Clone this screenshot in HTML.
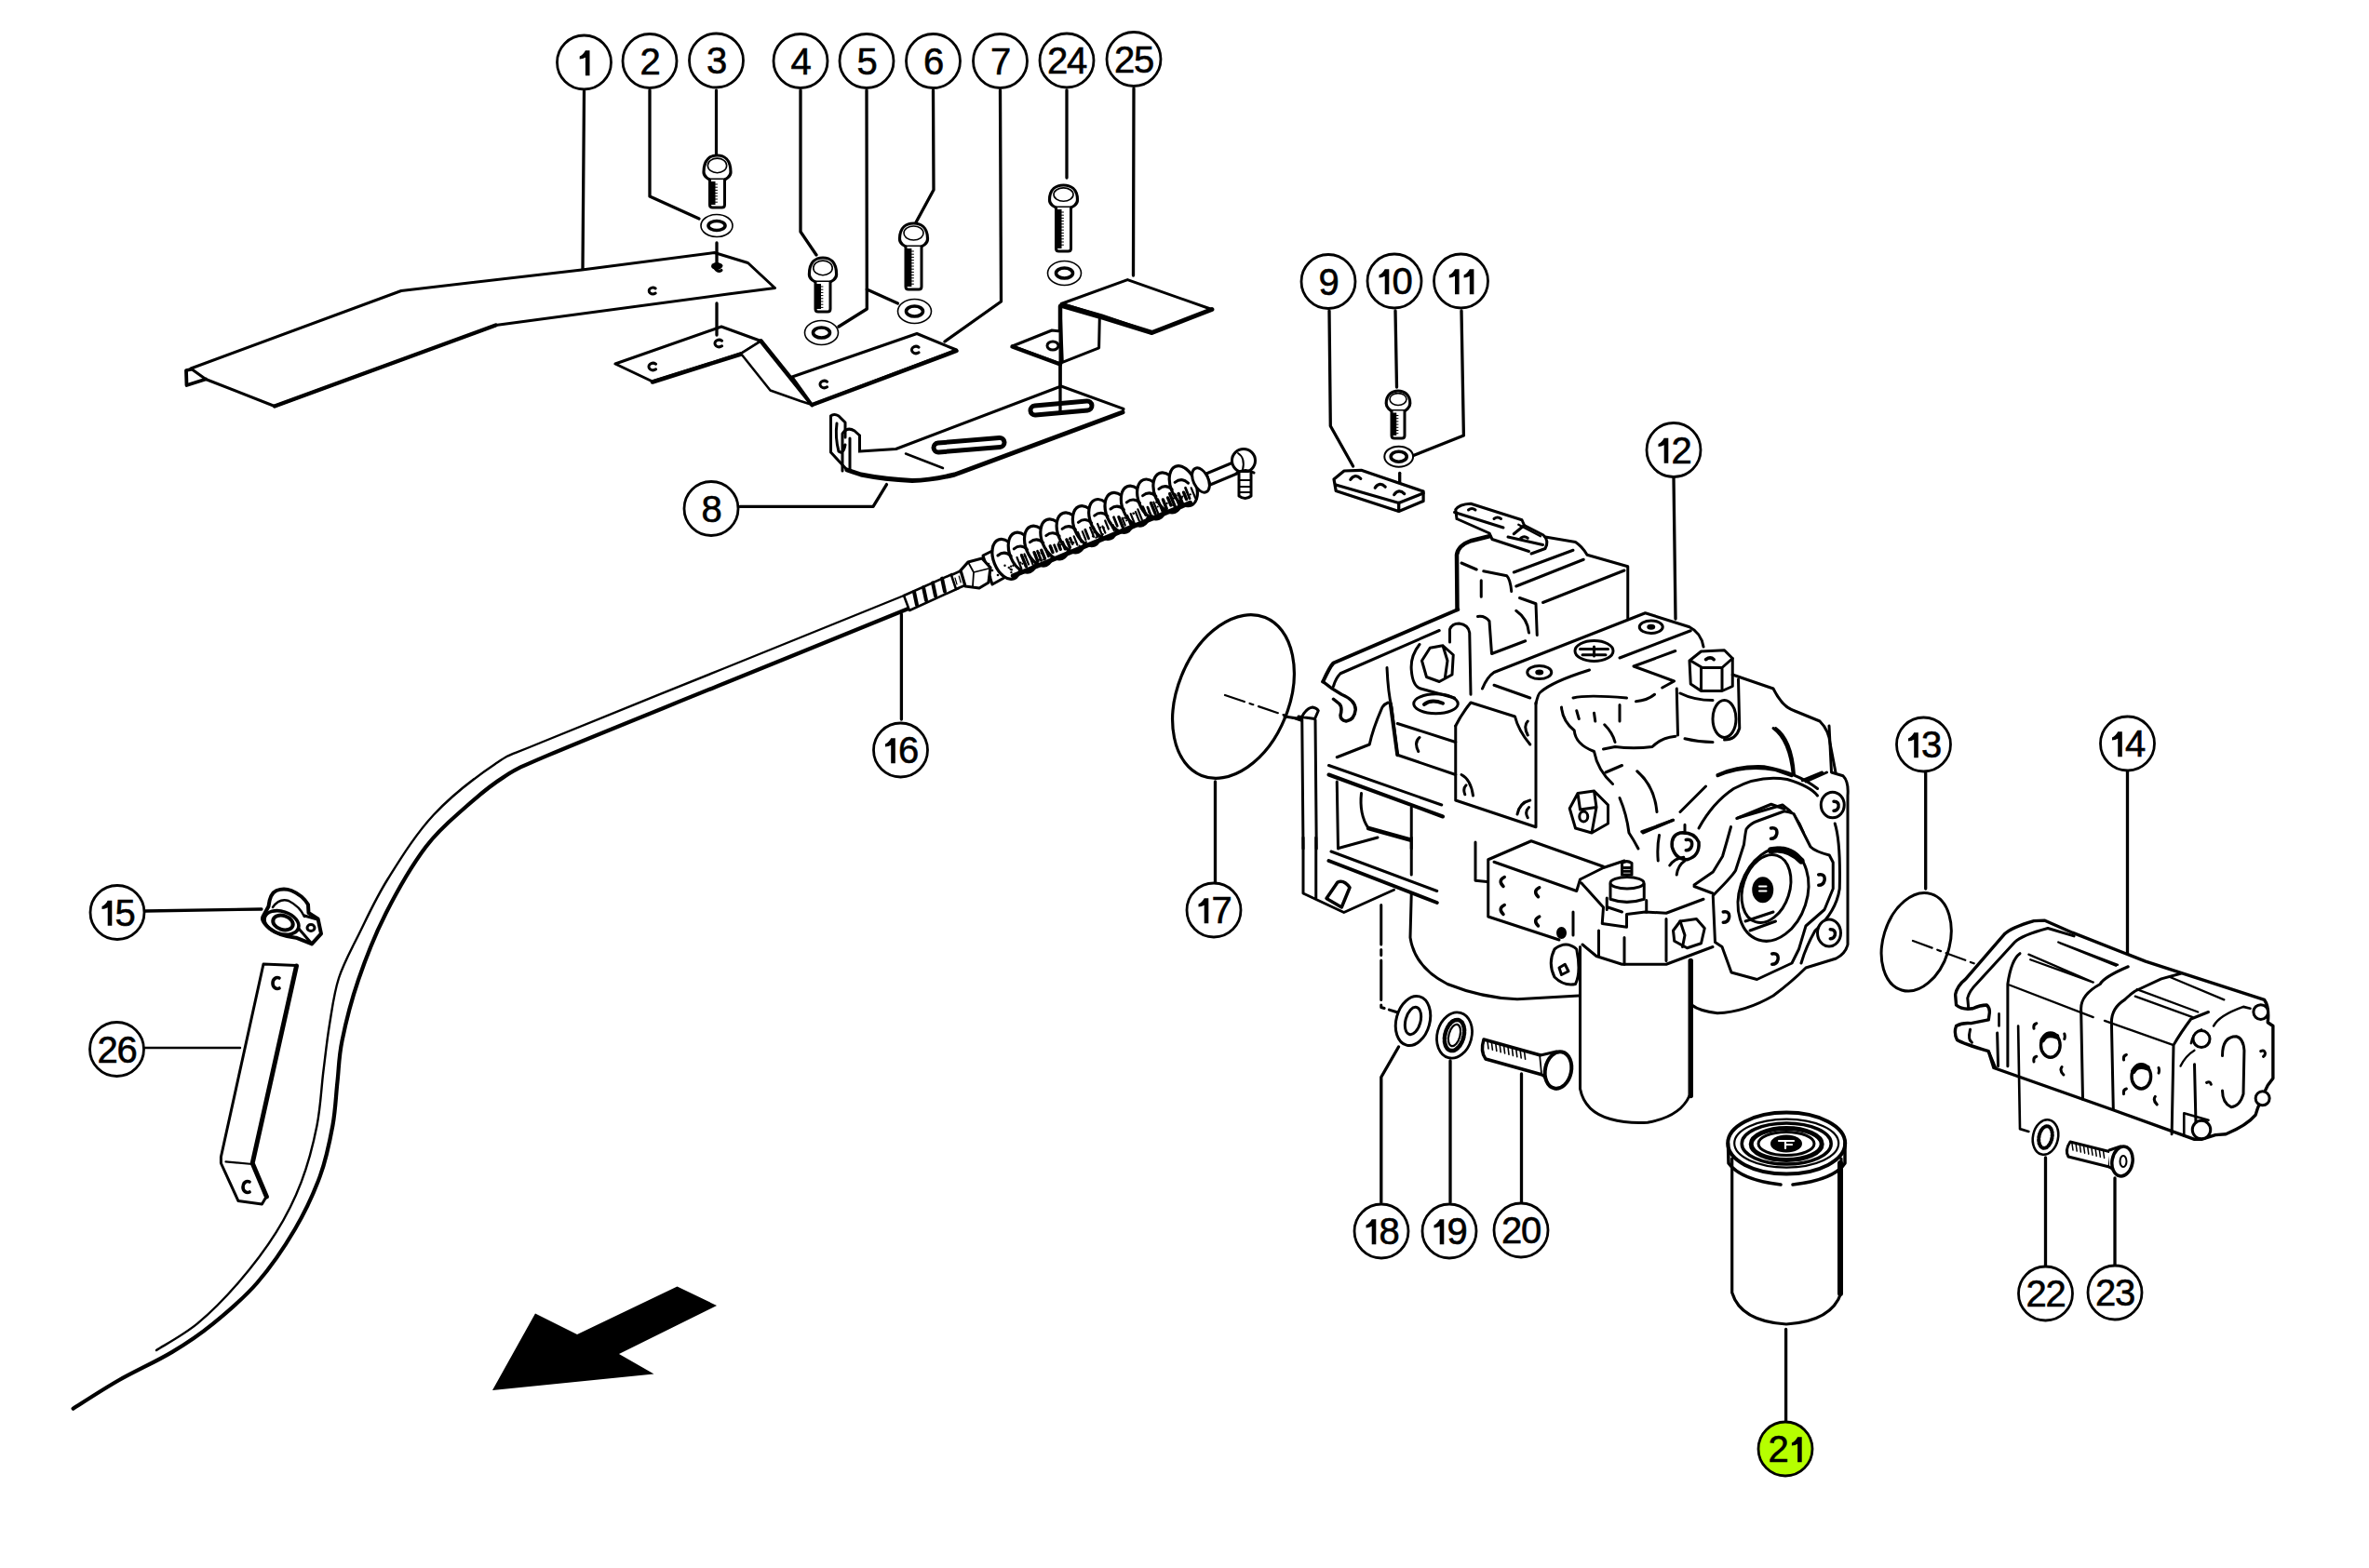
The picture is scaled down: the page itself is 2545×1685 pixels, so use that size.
<!DOCTYPE html>
<html><head><meta charset="utf-8"><style>
html,body{margin:0;padding:0;background:#fff;overflow:hidden;}
svg{display:block;}
.n{font-family:"Liberation Sans",sans-serif;font-size:40px;text-anchor:middle;fill:#000;stroke:#000;stroke-width:0.6px;}
</style></head><body>
<svg width="2545" height="1685" viewBox="0 0 2545 1685">
<rect width="2545" height="1685" fill="#fff"/>
<g fill="none" stroke="#000" stroke-width="3" stroke-linejoin="round" stroke-linecap="round">
<polyline points="627.5,98 626,289" stroke-width="3.3"/>
<polyline points="698,97 698,211 751,235" stroke-width="3.3"/>
<polyline points="769.5,97 769.5,166" stroke-width="3.2"/>
<polyline points="860,97 860,249 877,274" stroke-width="3.3"/>
<polyline points="931,97 931.3,332 901,351" stroke-width="3.3"/>
<polyline points="931.3,311 964.5,326" stroke-width="3.3"/>
<polyline points="1002.5,97 1003,204 984,239" stroke-width="3.3"/>
<polyline points="1074.5,97 1075.5,324 1015,367" stroke-width="3.3"/>
<polyline points="1146,97 1146,191" stroke-width="3.3"/>
<polyline points="1218,95 1217.5,296" stroke-width="3.3"/>
<polygon points="205,396 431,312.5 625,290 767.5,271.5 803.5,282.5 832.5,309.5 782,316 532.5,349.5 295,436.5 221,407.5" stroke-width="3" fill="#fff"/>
<polyline points="532.5,349.5 295,436.5" stroke-width="4.2"/>
<polyline points="205,397 200,398 200.5,414 221,407.5" stroke-width="3.8"/>
<path d="M704.2,309.98 A4.2,3.3600000000000003 0 1 0 704.2,315.02" stroke-width="3.0"/>
<polyline points="770,261 770,288" stroke-width="3.3"/>
<ellipse cx="770" cy="286" rx="6" ry="4" fill="#000" stroke="none"/>
<path d="M775,285.6 A4,3.2 0 1 0 775,290.4" stroke-width="3.0"/>
<polygon points="661,391 775,351 817.5,366.5 796,380 701,410" stroke-width="3" fill="#fff"/>
<polyline points="701,410.5 796,380.5" stroke-width="4.5"/>
<polygon points="817.5,366.5 872.5,435 860,431 827.5,419.5 796,380" stroke-width="2.5" fill="#fff"/>
<polyline points="817.5,366.5 872.5,435" stroke-width="4.5"/>
<polygon points="851,405 985,358.5 1027.5,376 872.5,435" stroke-width="3" fill="#fff"/>
<polyline points="872.5,435 1027.5,377" stroke-width="4.5"/>
<polyline points="770,326 770,360" stroke-width="3.3"/>
<path d="M704.6,391.24 A4.6,3.6799999999999997 0 1 0 704.6,396.76" stroke-width="3.0"/>
<path d="M775.6,366.24 A4.6,3.6799999999999997 0 1 0 775.6,371.76" stroke-width="3.0"/>
<path d="M888.6,410.24 A4.6,3.6799999999999997 0 1 0 888.6,415.76" stroke-width="3.0"/>
<path d="M987.1,373.24 A4.6,3.6799999999999997 0 1 0 987.1,378.76" stroke-width="3.0"/>
<path d="M756.0,185 C756.0,171 763.25,167 770.5,167 C777.75,167 785.0,171 785.0,185 C785.0,190 779.2,193 777.75,193 L763.25,193 C761.8,193 756.0,190 756.0,185 Z" fill="#fff" stroke-width="3.2"/>
<ellipse cx="770.5" cy="177.92" rx="10.149999999999999" ry="7.8" stroke-width="1.6"/>
<path d="M762.5,193 L762.5,220 Q762.5,223 765.5,223 L775.5,223 Q778.5,223 778.5,220 L778.5,193" fill="#fff" stroke-width="3"/>
<rect x="762.5" y="195" width="6.0" height="25" fill="#000" stroke="none"/>
<line x1="768.1" y1="198.0" x2="770.5" y2="198.0" stroke-width="1"/>
<line x1="768.1" y1="201.2" x2="770.5" y2="201.2" stroke-width="1"/>
<line x1="768.1" y1="204.4" x2="770.5" y2="204.4" stroke-width="1"/>
<line x1="768.1" y1="207.6" x2="770.5" y2="207.6" stroke-width="1"/>
<line x1="768.1" y1="210.8" x2="770.5" y2="210.8" stroke-width="1"/>
<line x1="768.1" y1="214.0" x2="770.5" y2="214.0" stroke-width="1"/>
<line x1="768.1" y1="217.2" x2="770.5" y2="217.2" stroke-width="1"/>
<path d="M869.4,295 C869.4,281 876.7,277 884,277 C891.3,277 898.6,281 898.6,295 C898.6,300 892.76,303 891.3,303 L876.7,303 C875.24,303 869.4,300 869.4,295 Z" fill="#fff" stroke-width="3.2"/>
<ellipse cx="884" cy="287.92" rx="10.219999999999999" ry="7.8" stroke-width="1.6"/>
<path d="M876,303 L876,332 Q876,335 879,335 L889,335 Q892,335 892,332 L892,303" fill="#fff" stroke-width="3"/>
<rect x="876" y="305" width="6.0" height="27" fill="#000" stroke="none"/>
<line x1="881.6" y1="308.0" x2="884" y2="308.0" stroke-width="1"/>
<line x1="881.6" y1="311.2" x2="884" y2="311.2" stroke-width="1"/>
<line x1="881.6" y1="314.4" x2="884" y2="314.4" stroke-width="1"/>
<line x1="881.6" y1="317.6" x2="884" y2="317.6" stroke-width="1"/>
<line x1="881.6" y1="320.8" x2="884" y2="320.8" stroke-width="1"/>
<line x1="881.6" y1="324.0" x2="884" y2="324.0" stroke-width="1"/>
<line x1="881.6" y1="327.2" x2="884" y2="327.2" stroke-width="1"/>
<line x1="881.6" y1="330.4" x2="884" y2="330.4" stroke-width="1"/>
<path d="M966.5,257 C966.5,244 974.0,240 981.5,240 C989.0,240 996.5,244 996.5,257 C996.5,262 990.5,265 989.0,265 L974.0,265 C972.5,265 966.5,262 966.5,257 Z" fill="#fff" stroke-width="3.2"/>
<ellipse cx="981.5" cy="250.5" rx="10.5" ry="7.5" stroke-width="1.6"/>
<path d="M973.0,265 L973.0,308 Q973.0,311 976.0,311 L987.0,311 Q990.0,311 990.0,308 L990.0,265" fill="#fff" stroke-width="3"/>
<rect x="973.0" y="267" width="6.375" height="41" fill="#000" stroke="none"/>
<line x1="978.95" y1="270.0" x2="981.5" y2="270.0" stroke-width="1"/>
<line x1="978.95" y1="273.2" x2="981.5" y2="273.2" stroke-width="1"/>
<line x1="978.95" y1="276.4" x2="981.5" y2="276.4" stroke-width="1"/>
<line x1="978.95" y1="279.6" x2="981.5" y2="279.6" stroke-width="1"/>
<line x1="978.95" y1="282.8" x2="981.5" y2="282.8" stroke-width="1"/>
<line x1="978.95" y1="286.0" x2="981.5" y2="286.0" stroke-width="1"/>
<line x1="978.95" y1="289.2" x2="981.5" y2="289.2" stroke-width="1"/>
<line x1="978.95" y1="292.4" x2="981.5" y2="292.4" stroke-width="1"/>
<line x1="978.95" y1="295.6" x2="981.5" y2="295.6" stroke-width="1"/>
<line x1="978.95" y1="298.8" x2="981.5" y2="298.8" stroke-width="1"/>
<line x1="978.95" y1="302.0" x2="981.5" y2="302.0" stroke-width="1"/>
<line x1="978.95" y1="305.2" x2="981.5" y2="305.2" stroke-width="1"/>
<path d="M1127.5,215 C1127.5,203 1135.0,199 1142.5,199 C1150.0,199 1157.5,203 1157.5,215 C1157.5,220 1151.5,223 1150.0,223 L1135.0,223 C1133.5,223 1127.5,220 1127.5,215 Z" fill="#fff" stroke-width="3.2"/>
<ellipse cx="1142.5" cy="209.08" rx="10.5" ry="7.199999999999999" stroke-width="1.6"/>
<path d="M1134.5,223 L1134.5,267 Q1134.5,270 1137.5,270 L1147.5,270 Q1150.5,270 1150.5,267 L1150.5,223" fill="#fff" stroke-width="3"/>
<rect x="1134.5" y="225" width="6.0" height="42" fill="#000" stroke="none"/>
<line x1="1140.1" y1="228.0" x2="1142.5" y2="228.0" stroke-width="1"/>
<line x1="1140.1" y1="231.2" x2="1142.5" y2="231.2" stroke-width="1"/>
<line x1="1140.1" y1="234.4" x2="1142.5" y2="234.4" stroke-width="1"/>
<line x1="1140.1" y1="237.6" x2="1142.5" y2="237.6" stroke-width="1"/>
<line x1="1140.1" y1="240.8" x2="1142.5" y2="240.8" stroke-width="1"/>
<line x1="1140.1" y1="244.0" x2="1142.5" y2="244.0" stroke-width="1"/>
<line x1="1140.1" y1="247.2" x2="1142.5" y2="247.2" stroke-width="1"/>
<line x1="1140.1" y1="250.4" x2="1142.5" y2="250.4" stroke-width="1"/>
<line x1="1140.1" y1="253.6" x2="1142.5" y2="253.6" stroke-width="1"/>
<line x1="1140.1" y1="256.8" x2="1142.5" y2="256.8" stroke-width="1"/>
<line x1="1140.1" y1="260.0" x2="1142.5" y2="260.0" stroke-width="1"/>
<line x1="1140.1" y1="263.2" x2="1142.5" y2="263.2" stroke-width="1"/>
<ellipse cx="770" cy="242.5" rx="17" ry="12" fill="#fff" stroke-width="1.6"/><ellipse cx="770" cy="242.5" rx="9" ry="5" stroke-width="3.6"/>
<ellipse cx="882.5" cy="357.5" rx="18" ry="13" fill="#fff" stroke-width="1.6"/><ellipse cx="882.5" cy="357.5" rx="9" ry="5.5" stroke-width="3.6"/>
<ellipse cx="982.5" cy="334.5" rx="18" ry="13" fill="#fff" stroke-width="1.6"/><ellipse cx="982.5" cy="334.5" rx="9" ry="5.5" stroke-width="3.6"/>
<ellipse cx="1143.5" cy="293.5" rx="18" ry="13" fill="#fff" stroke-width="1.6"/><ellipse cx="1143.5" cy="293.5" rx="9" ry="5.5" stroke-width="3.6"/>
<polygon points="1140,326.5 1211.3,300.6 1301.9,332.5 1237.5,357.5 1183.8,339" stroke-width="3" fill="#fff"/>
<polyline points="1142.5,328 1237.5,357.5 1301.9,332.5" stroke-width="5"/>
<polygon points="1139,329 1181.3,341.3 1180.6,373.8 1141.3,389.4" stroke-width="3" fill="#fff"/>
<polyline points="1139,329 1139,391" stroke-width="4.5"/>
<polygon points="1087.5,372 1130,355 1139,356 1139,391" stroke-width="3" fill="#fff"/>
<polyline points="1087.5,372.5 1139,391.5" stroke-width="4.5"/>
<ellipse cx="1131" cy="371.5" rx="6" ry="4.5" stroke-width="3"/>
<polyline points="1139,392 1139,442" stroke-width="3.3"/>
<path d="M892.5,486 L892.5,447 Q896,444 901,447 L908,454 L908,470 M923.5,468 L923.5,506 L910,505 L892.5,486" stroke-width="3" fill="#fff"/>
<path d="M923.5,485 L962.5,482.5 L1140,415 L1207,439.4 L1206,443 L1025.6,510 Q1000,516 980,516.5 Q950,515 925,510 L910,505" stroke-width="3" fill="#fff"/>
<path d="M1206,443 L1025.6,510 Q1000,516 980,516.5 Q950,515 925,510 L910,505" stroke-width="5"/>
<path d="M899,455 Q897,470 901,485 Q906,489 908,478 M905,506 L905,466 Q910,458 918,463 L923.5,468 M913,471 L913,505" stroke-width="3"/>
<polyline points="973,487.5 1013,503" stroke-width="2.5"/>
<line x1="1008" y1="481" x2="1074" y2="475.5" stroke-width="15"/><line x1="1008" y1="481" x2="1074" y2="475.5" stroke="#fff" stroke-width="5"/>
<line x1="1112" y1="441" x2="1168" y2="436" stroke-width="15"/><line x1="1112" y1="441" x2="1168" y2="436" stroke="#fff" stroke-width="5"/>
<polyline points="1139,392 1139,442" stroke-width="3.3"/>
<polyline points="795,544.4 938,544.4 952.5,520.6" stroke-width="3.3"/>
<path d="M971,640 C938.5,653.2 841.0,692.7 776,719 C711.0,745.3 621.7,781.0 581,798 C540.3,815.0 551.2,808.1 532,821 C512.8,833.9 485.2,855.0 466,875.5 C446.8,896.0 430.3,922.8 417,944 C403.7,965.2 394.8,985.2 386,1003 C377.2,1020.8 369.3,1034.7 364,1051 C358.7,1067.3 356.8,1084.2 354,1101 C351.2,1117.8 349.6,1133.9 347.3,1152 C345.1,1170.1 344.4,1189.8 340.5,1209.5 C336.6,1229.2 330.9,1251.2 323.6,1270.4 C316.3,1289.6 307.9,1306.4 296.6,1324.4 C285.3,1342.4 270.1,1362.2 256,1378.5 C241.9,1394.8 226.7,1410.3 212,1422.4 C197.3,1434.5 175.3,1446.2 168,1451" stroke-width="2.4"/>
<path d="M1023,632 C1014.3,636.0 1011.7,639.0 971,656 C930.3,673.0 843.0,707.9 779,734 C715.0,760.1 626.7,795.5 587,812.4 C547.3,829.3 555.1,826.3 540.7,835.4 C526.3,844.5 514.4,854.6 500.5,867 C486.6,879.4 471.9,890.9 457.5,910 C443.1,929.1 426.5,957.9 414.4,981.7 C402.3,1005.5 392.8,1030.2 385,1053 C377.2,1075.8 371.2,1100.1 367.5,1118.3 C363.8,1136.5 364.2,1147.0 362.5,1162.2 C360.8,1177.4 360.5,1192.6 357.4,1209.5 C354.3,1226.4 350.7,1245.0 343.9,1263.6 C337.1,1282.2 328.1,1301.8 316.8,1321 C305.5,1340.2 290.9,1361.6 276.3,1378.5 C261.7,1395.4 244.2,1410.0 229,1422.4 C213.8,1434.8 201.9,1442.8 185,1452.9 C168.1,1463.1 145.3,1473.2 127.6,1483.3 C109.9,1493.4 86.8,1508.6 78.6,1513.7" stroke-width="4.2"/>
<polyline points="968.4,660 968.4,773" stroke-width="3.3"/>
<polygon points="971,640 1023,617 1030,632 977,656" fill="#fff" stroke-width="2.5"/>
<line x1="982" y1="636.0" x2="985" y2="650.0" stroke-width="4"/>
<line x1="992" y1="631.2" x2="995" y2="645.2" stroke-width="4"/>
<line x1="1002" y1="626.4" x2="1005" y2="640.4" stroke-width="4"/>
<line x1="1012" y1="621.6" x2="1015" y2="635.6" stroke-width="4"/>
<polygon points="1022,618 1044,608 1049,624 1027,633" fill="#fff" stroke-width="2.5"/>
<line x1="1026.0" y1="621" x2="1028.0" y2="628" stroke-width="1.2"/>
<line x1="1030.2" y1="619" x2="1032.2" y2="626" stroke-width="1.2"/>
<line x1="1034.4" y1="617" x2="1036.4" y2="624" stroke-width="1.2"/>
<line x1="1038.6" y1="615" x2="1040.6" y2="622" stroke-width="1.2"/>
<line x1="1042.8" y1="613" x2="1044.8" y2="620" stroke-width="1.2"/>
<polygon points="1056,597 1072,589 1084,618 1066,628" fill="#fff" stroke-width="3"/>
<circle cx="1062" cy="606" r="1.3" fill="#000" stroke="none"/>
<circle cx="1066" cy="613" r="1.3" fill="#000" stroke="none"/>
<circle cx="1070" cy="603" r="1.3" fill="#000" stroke="none"/>
<circle cx="1072" cy="618" r="1.3" fill="#000" stroke="none"/>
<circle cx="1076" cy="610" r="1.3" fill="#000" stroke="none"/>
<circle cx="1064" cy="620" r="1.3" fill="#000" stroke="none"/>
<circle cx="1078" cy="600" r="1.3" fill="#000" stroke="none"/>
<path d="M1032,613 L1040,604 L1055,600 L1064,610 L1062,626 L1052,632 L1037,630 Z" fill="#fff" stroke-width="3.2"/>
<path d="M1040,604 L1046,615 L1045,630 M1046,615 L1062,611" stroke-width="1.8"/>
<ellipse cx="1081.0" cy="600.9" rx="13.5" ry="22.5" transform="rotate(-22.0 1081.0 600.9)" fill="#fff" stroke-width="3.2"/>
<ellipse cx="1098.3" cy="593.7" rx="13.5" ry="22.5" transform="rotate(-22.0 1098.3 593.7)" fill="#fff" stroke-width="3.2"/>
<ellipse cx="1115.6" cy="586.6" rx="13.5" ry="22.5" transform="rotate(-22.0 1115.6 586.6)" fill="#fff" stroke-width="3.2"/>
<ellipse cx="1132.9" cy="579.4" rx="13.5" ry="22.5" transform="rotate(-22.0 1132.9 579.4)" fill="#fff" stroke-width="3.2"/>
<ellipse cx="1150.2" cy="572.3" rx="13.5" ry="22.5" transform="rotate(-22.0 1150.2 572.3)" fill="#fff" stroke-width="3.2"/>
<ellipse cx="1167.5" cy="565.1" rx="13.5" ry="22.5" transform="rotate(-22.0 1167.5 565.1)" fill="#fff" stroke-width="3.2"/>
<ellipse cx="1184.8" cy="558.0" rx="13.5" ry="22.5" transform="rotate(-22.0 1184.8 558.0)" fill="#fff" stroke-width="3.2"/>
<ellipse cx="1202.1" cy="550.8" rx="13.5" ry="22.5" transform="rotate(-22.0 1202.1 550.8)" fill="#fff" stroke-width="3.2"/>
<ellipse cx="1219.4" cy="543.7" rx="13.5" ry="22.5" transform="rotate(-22.0 1219.4 543.7)" fill="#fff" stroke-width="3.2"/>
<ellipse cx="1236.7" cy="536.5" rx="13.5" ry="22.5" transform="rotate(-22.0 1236.7 536.5)" fill="#fff" stroke-width="3.2"/>
<ellipse cx="1254.0" cy="529.4" rx="13.5" ry="22.5" transform="rotate(-22.0 1254.0 529.4)" fill="#fff" stroke-width="3.2"/>
<ellipse cx="1271.3" cy="522.2" rx="13.5" ry="22.5" transform="rotate(-22.0 1271.3 522.2)" fill="#fff" stroke-width="3.2"/>
<polyline points="1088.3,618.9 1105.6,611.8 1122.9,604.7 1140.2,597.5 1157.5,590.4 1174.8,583.2 1192.1,576.1 1209.4,568.9 1226.7,561.8 1244.0,554.6 1261.3,547.5 1278.6,540.3" stroke-width="5"/>
<path d="M1071.9,597.0 Q1079.3,591.0 1086.2,597.7" stroke-width="3"/>
<path d="M1089.2,589.9 Q1096.6,583.9 1103.5,590.5" stroke-width="3"/>
<line x1="1092.5" y1="599.0" x2="1097.4" y2="611.2" stroke-width="2.2"/>
<line x1="1097.5" y1="596.7" x2="1102.4" y2="608.8" stroke-width="3.4"/>
<line x1="1100.5" y1="595.4" x2="1105.1" y2="606.6" stroke-width="2.2"/>
<line x1="1105.1" y1="595.4" x2="1109.9" y2="607.3" stroke-width="2.2"/>
<circle cx="1109.5" cy="602.3" r="1.1" fill="#000" stroke="none"/>
<circle cx="1101.3" cy="597.7" r="1.1" fill="#000" stroke="none"/>
<circle cx="1101.3" cy="597.5" r="1.1" fill="#000" stroke="none"/>
<circle cx="1098.4" cy="605.8" r="1.1" fill="#000" stroke="none"/>
<circle cx="1096.4" cy="604.7" r="1.1" fill="#000" stroke="none"/>
<path d="M1106.5,582.7 Q1113.9,576.7 1120.8,583.4" stroke-width="3"/>
<line x1="1111.0" y1="593.7" x2="1114.9" y2="603.4" stroke-width="3.4"/>
<line x1="1114.5" y1="592.3" x2="1118.6" y2="602.4" stroke-width="2.8"/>
<line x1="1118.8" y1="591.3" x2="1122.5" y2="600.4" stroke-width="3.4"/>
<line x1="1123.1" y1="589.4" x2="1126.5" y2="597.9" stroke-width="2.8"/>
<circle cx="1121.1" cy="601.6" r="1.1" fill="#000" stroke="none"/>
<circle cx="1116.3" cy="594.1" r="1.1" fill="#000" stroke="none"/>
<circle cx="1116.2" cy="601.6" r="1.1" fill="#000" stroke="none"/>
<circle cx="1112.4" cy="596.4" r="1.1" fill="#000" stroke="none"/>
<circle cx="1118.7" cy="594.5" r="1.1" fill="#000" stroke="none"/>
<path d="M1123.8,575.6 Q1131.2,569.6 1138.1,576.2" stroke-width="3"/>
<line x1="1128.2" y1="586.8" x2="1131.0" y2="593.6" stroke-width="3.4"/>
<line x1="1132.6" y1="585.8" x2="1135.3" y2="592.4" stroke-width="2.8"/>
<line x1="1137.2" y1="585.0" x2="1139.3" y2="590.3" stroke-width="3.4"/>
<line x1="1141.5" y1="582.8" x2="1144.3" y2="589.8" stroke-width="3.4"/>
<circle cx="1134.6" cy="590.0" r="1.1" fill="#000" stroke="none"/>
<circle cx="1139.1" cy="582.2" r="1.1" fill="#000" stroke="none"/>
<circle cx="1129.7" cy="588.8" r="1.1" fill="#000" stroke="none"/>
<circle cx="1137.6" cy="582.7" r="1.1" fill="#000" stroke="none"/>
<circle cx="1139.3" cy="585.5" r="1.1" fill="#000" stroke="none"/>
<path d="M1141.1,568.4 Q1148.5,562.4 1155.4,569.1" stroke-width="3"/>
<line x1="1145.9" y1="579.9" x2="1149.4" y2="588.4" stroke-width="3.4"/>
<line x1="1149.7" y1="578.3" x2="1152.2" y2="584.6" stroke-width="2.8"/>
<line x1="1153.7" y1="576.3" x2="1157.4" y2="585.5" stroke-width="2.2"/>
<line x1="1157.7" y1="572.1" x2="1161.8" y2="582.1" stroke-width="2.8"/>
<circle cx="1160.3" cy="579.5" r="1.1" fill="#000" stroke="none"/>
<circle cx="1148.7" cy="582.8" r="1.1" fill="#000" stroke="none"/>
<circle cx="1149.1" cy="579.0" r="1.1" fill="#000" stroke="none"/>
<circle cx="1153.4" cy="583.0" r="1.1" fill="#000" stroke="none"/>
<circle cx="1159.6" cy="586.6" r="1.1" fill="#000" stroke="none"/>
<path d="M1158.4,561.3 Q1165.8,555.3 1172.7,562.0" stroke-width="3"/>
<line x1="1162.8" y1="571.2" x2="1166.4" y2="580.0" stroke-width="2.2"/>
<line x1="1165.8" y1="569.2" x2="1169.6" y2="578.7" stroke-width="2.8"/>
<line x1="1171.1" y1="566.8" x2="1175.1" y2="576.8" stroke-width="2.2"/>
<line x1="1174.8" y1="566.3" x2="1179.1" y2="577.0" stroke-width="2.2"/>
<circle cx="1174.3" cy="573.9" r="1.1" fill="#000" stroke="none"/>
<circle cx="1174.0" cy="576.3" r="1.1" fill="#000" stroke="none"/>
<circle cx="1166.8" cy="582.4" r="1.1" fill="#000" stroke="none"/>
<circle cx="1177.4" cy="577.7" r="1.1" fill="#000" stroke="none"/>
<circle cx="1175.3" cy="571.8" r="1.1" fill="#000" stroke="none"/>
<path d="M1175.7,554.1 Q1183.1,548.1 1190.0,554.8" stroke-width="3"/>
<line x1="1179.1" y1="563.0" x2="1184.1" y2="575.3" stroke-width="2.2"/>
<line x1="1184.5" y1="565.6" x2="1187.4" y2="572.7" stroke-width="2.2"/>
<line x1="1187.2" y1="559.5" x2="1190.9" y2="568.5" stroke-width="2.2"/>
<line x1="1193.4" y1="561.8" x2="1196.8" y2="570.1" stroke-width="2.2"/>
<circle cx="1194.8" cy="566.8" r="1.1" fill="#000" stroke="none"/>
<circle cx="1182.3" cy="566.8" r="1.1" fill="#000" stroke="none"/>
<circle cx="1185.8" cy="567.0" r="1.1" fill="#000" stroke="none"/>
<circle cx="1184.8" cy="574.2" r="1.1" fill="#000" stroke="none"/>
<circle cx="1195.9" cy="564.3" r="1.1" fill="#000" stroke="none"/>
<path d="M1193.0,547.0 Q1200.4,541.0 1207.3,547.7" stroke-width="3"/>
<line x1="1196.5" y1="555.7" x2="1200.3" y2="565.2" stroke-width="2.8"/>
<line x1="1201.9" y1="555.7" x2="1206.3" y2="566.6" stroke-width="3.4"/>
<line x1="1205.6" y1="556.7" x2="1208.8" y2="564.5" stroke-width="2.2"/>
<line x1="1210.9" y1="554.3" x2="1214.7" y2="563.6" stroke-width="2.8"/>
<circle cx="1214.9" cy="562.1" r="1.1" fill="#000" stroke="none"/>
<circle cx="1207.8" cy="556.5" r="1.1" fill="#000" stroke="none"/>
<circle cx="1202.4" cy="557.4" r="1.1" fill="#000" stroke="none"/>
<circle cx="1210.2" cy="559.3" r="1.1" fill="#000" stroke="none"/>
<circle cx="1209.3" cy="556.8" r="1.1" fill="#000" stroke="none"/>
<path d="M1210.3,539.8 Q1217.7,533.8 1224.6,540.5" stroke-width="3"/>
<line x1="1214.7" y1="552.1" x2="1219.1" y2="563.1" stroke-width="2.2"/>
<line x1="1219.9" y1="550.0" x2="1223.8" y2="559.6" stroke-width="2.2"/>
<line x1="1222.4" y1="547.3" x2="1226.8" y2="558.4" stroke-width="2.2"/>
<line x1="1227.6" y1="545.1" x2="1230.9" y2="553.2" stroke-width="3.4"/>
<circle cx="1229.9" cy="550.0" r="1.1" fill="#000" stroke="none"/>
<circle cx="1232.2" cy="556.7" r="1.1" fill="#000" stroke="none"/>
<circle cx="1229.4" cy="549.1" r="1.1" fill="#000" stroke="none"/>
<circle cx="1217.9" cy="551.8" r="1.1" fill="#000" stroke="none"/>
<circle cx="1217.4" cy="551.7" r="1.1" fill="#000" stroke="none"/>
<path d="M1227.6,532.7 Q1235.0,526.7 1241.9,533.4" stroke-width="3"/>
<line x1="1232.9" y1="545.1" x2="1236.8" y2="554.9" stroke-width="2.8"/>
<line x1="1236.5" y1="540.6" x2="1241.1" y2="551.9" stroke-width="3.4"/>
<line x1="1239.3" y1="539.7" x2="1244.0" y2="551.2" stroke-width="2.2"/>
<line x1="1243.8" y1="536.8" x2="1249.0" y2="549.6" stroke-width="2.8"/>
<circle cx="1236.7" cy="554.1" r="1.1" fill="#000" stroke="none"/>
<circle cx="1243.7" cy="544.5" r="1.1" fill="#000" stroke="none"/>
<circle cx="1242.2" cy="539.8" r="1.1" fill="#000" stroke="none"/>
<circle cx="1238.0" cy="554.3" r="1.1" fill="#000" stroke="none"/>
<circle cx="1234.1" cy="550.2" r="1.1" fill="#000" stroke="none"/>
<path d="M1244.9,525.5 Q1252.3,519.5 1259.2,526.2" stroke-width="3"/>
<line x1="1249.4" y1="536.9" x2="1253.3" y2="546.6" stroke-width="3.4"/>
<line x1="1254.6" y1="534.9" x2="1257.9" y2="543.0" stroke-width="3.4"/>
<line x1="1256.7" y1="530.6" x2="1262.2" y2="544.2" stroke-width="3.4"/>
<line x1="1262.0" y1="531.1" x2="1266.9" y2="543.2" stroke-width="2.8"/>
<circle cx="1263.7" cy="532.5" r="1.1" fill="#000" stroke="none"/>
<circle cx="1261.2" cy="531.2" r="1.1" fill="#000" stroke="none"/>
<circle cx="1253.7" cy="540.9" r="1.1" fill="#000" stroke="none"/>
<circle cx="1261.0" cy="535.4" r="1.1" fill="#000" stroke="none"/>
<circle cx="1260.2" cy="542.9" r="1.1" fill="#000" stroke="none"/>
<path d="M1262.2,518.4 Q1269.6,512.4 1276.5,519.1" stroke-width="3"/>
<line x1="1266.1" y1="530.5" x2="1270.5" y2="541.3" stroke-width="3.4"/>
<line x1="1271.6" y1="529.2" x2="1274.6" y2="536.6" stroke-width="3.4"/>
<line x1="1273.5" y1="524.3" x2="1278.1" y2="535.7" stroke-width="2.8"/>
<line x1="1279.7" y1="524.3" x2="1284.1" y2="535.0" stroke-width="2.2"/>
<circle cx="1270.2" cy="533.6" r="1.1" fill="#000" stroke="none"/>
<circle cx="1278.9" cy="531.3" r="1.1" fill="#000" stroke="none"/>
<circle cx="1272.7" cy="533.2" r="1.1" fill="#000" stroke="none"/>
<circle cx="1277.4" cy="535.1" r="1.1" fill="#000" stroke="none"/>
<circle cx="1269.7" cy="535.1" r="1.1" fill="#000" stroke="none"/>
<circle cx="1079.5" cy="607.8" r="1.2" fill="#000" stroke="none"/>
<circle cx="1088.5" cy="607.7" r="1.2" fill="#000" stroke="none"/>
<circle cx="1086.7" cy="612.2" r="1.2" fill="#000" stroke="none"/>
<circle cx="1090.2" cy="606.0" r="1.2" fill="#000" stroke="none"/>
<circle cx="1086.1" cy="608.6" r="1.2" fill="#000" stroke="none"/>
<circle cx="1085.6" cy="611.6" r="1.2" fill="#000" stroke="none"/>
<circle cx="1083.8" cy="609.9" r="1.2" fill="#000" stroke="none"/>
<circle cx="1086.4" cy="615.1" r="1.2" fill="#000" stroke="none"/>
<polygon points="1296,509 1300,521 1331,508 1327,496" fill="#fff" stroke-width="3"/>
<ellipse cx="1290" cy="516" rx="8" ry="14" transform="rotate(-25 1290 516)" fill="#fff" stroke-width="3"/>
<circle cx="1336" cy="495" r="12.5" fill="#fff" stroke-width="3"/>
<path d="M1330,487 Q1338,492 1335,505" stroke-width="2"/>
<path d="M1331,508 L1331,533 Q1338,538 1344,533 L1344,508" fill="#fff" stroke-width="3"/>
<path d="M1329,508 Q1338,503 1347,508" stroke-width="3"/>
<line x1="1332" y1="516" x2="1343" y2="516" stroke-width="2"/>
<line x1="1332" y1="523" x2="1343" y2="523" stroke-width="2"/>
<line x1="1332" y1="529" x2="1343" y2="529" stroke-width="2"/>
<polyline points="156,979 281,977" stroke-width="3.3"/>
<polyline points="155,1126 258,1126" stroke-width="2.4"/>
<path d="M288.5,974 Q290,960 297,957 Q305,954 313,957 Q325,962 331,972 L331.5,981 L341.6,987.4 L345,1003.4 L335,1014.4 L318,1007.7 Q300,1006 290,998 Q280,990 282.5,985 Z" fill="#fff" stroke-width="4"/>
<ellipse cx="302.5" cy="991.5" rx="19" ry="12" transform="rotate(18 302.5 991.5)" stroke-width="3.6"/>
<ellipse cx="304" cy="991.5" rx="11" ry="7.5" transform="rotate(18 304 991.5)" stroke-width="4"/>
<path d="M293,975 Q300,965 310,968 Q322,974 327,985" stroke-width="2.5"/>
<path d="M327,984 L341,988 M321,998 L334,1013" stroke-width="3"/>
<ellipse cx="334" cy="997" rx="4" ry="3.5" stroke-width="3"/>
<polygon points="283,1036 318.5,1037.5 271.2,1250 286.4,1285.6 281.4,1294 256,1290.6 237.4,1250 237.4,1243.3" stroke-width="3" fill="#fff"/>
<polyline points="318.5,1038 271.2,1250 286.4,1286" stroke-width="5"/>
<polyline points="242.5,1248.4 271,1251" stroke-width="2.2"/>
<path d="M300,1051 A5,6 0 1 0 300,1062" stroke-width="3.6"/>
<path d="M268,1270 A5,6 0 1 0 268,1281" stroke-width="3.6"/>
<polygon points="529,1494 575,1411.5 620,1434 727.5,1382.5 770,1403 665,1455 702.5,1476.5" fill="#000" stroke="none"/>
<polyline points="1798,513 1800,665" stroke-width="3.3"/>
<g transform="translate(1380,520) scale(0.25)" stroke-width="12">

<path d="M740,150 L735,110 Q750,88 800,85 L1020,155 L1030,178 L1112,220 Q1138,245 1120,278 L1060,300 M740,150 L880,212 L892,238 L1050,290" fill="#fff"/>
<path d="M1005,175 L1100,225" stroke-width="9"/>
<path d="M730,122 L940,188 M960,228 L1110,262 M1030,178 L985,215" stroke-width="12"/>
<path d="M790,112 q15,-12 30,0 M900,150 q15,-12 30,0 M1015,233 q15,-12 30,0" stroke-width="12"/>
<path d="M742,540 L740,305 Q745,265 800,245 L880,225" stroke-width="18"/>
<path d="M1120,228 L1250,250 Q1280,270 1300,305 L1475,355 L1475,578"/>
<path d="M985,380 L1240,285 M995,440 L1285,325 M1110,510 L1460,372"/>
<path d="M760,340 L825,368 M855,375 L955,395 Q970,410 975,462 M845,415 L845,485"/>
<path d="M1010,490 L1080,515 L1085,650 M995,545 Q1045,580 1050,640"/>
<path d="M830,570 Q860,565 880,590 L890,730 L1035,675"/>
<path d="M710,680 L710,625 Q720,600 750,600 Q790,605 795,640 L800,905"/>
<path d="M745,540 L210,770 Q195,785 165,850" stroke-width="16"/>
<path d="M665,630 L240,815 Q220,835 210,870"/>
<path d="M165,850 Q200,880 245,905 Q305,930 305,970 Q300,1015 265,1020 Q240,1015 240,995 Q250,960 235,945 L210,925" stroke-width="14"/>
<path d="M0,1000 L70,1010 Q90,965 120,960 Q140,965 145,975 L130,1010 L60,1000"/>
<path d="M75,1010 L80,1568 M132,1015 L137,1568"/>
<path d="M440,790 Q445,900 460,960 L485,1165 L735,1250" />
<path d="M455,945 L485,1165" stroke-width="16"/>
<path d="M485,1030 L735,1110"/>
<path d="M735,1040 L735,1360 L1080,1475 L1080,940"/>
<path d="M735,1040 Q760,990 800,940 L990,1000 Q1005,1060 1055,1120"/>
<path d="M580,690 Q540,740 545,800 Q550,870 585,880 L730,920"/>
<path d="M590,760 L625,705 L680,695 L725,735 L720,820 L665,850 L610,830 Z M680,695 L700,760 L690,830" fill="#fff"/>
<ellipse cx="650" cy="945" rx="95" ry="42"/>
<path d="M600,948 q30,-25 80,-5" stroke-width="16"/>
<path d="M580,1090 q-25,20 -5,60 M780,1295 q-15,15 -5,40 M1045,1020 q-20,20 0,60 M1050,1390 q-20,20 -5,45"/>
<path d="M225,1175 L365,1120 Q380,1050 420,960 Q430,945 445,940"/>
<path d="M760,1250 Q800,1270 810,1340 M1000,1420 Q1010,1370 1055,1360"/>
<path d="M850,880 Q870,830 900,810 L1550,555 L1740,615 Q1790,640 1800,700"/>
<path d="M900,865 L1055,920 M1080,945 Q1090,900 1100,895 Q1150,850 1310,800"/>
<path d="M1440,748 L1745,631 M1679,718 L1500,784 L1674,848 L1623,876"/>
<ellipse cx="1575" cy="615" rx="50" ry="27"/><ellipse cx="1575" cy="615" rx="12" ry="6" fill="#000"/>
<ellipse cx="1330" cy="718" rx="82" ry="44"/><path d="M1270,710 L1390,710 M1280,735 L1380,735 M1330,700 L1330,740"/>
<ellipse cx="1095" cy="810" rx="52" ry="28"/><ellipse cx="1095" cy="810" rx="12" ry="6" fill="#000"/>
<path d="M1740,760 L1790,720 L1890,715 L1925,750 L1925,870 L1880,890 L1790,890 L1745,860 Z" fill="#fff"/>
<path d="M1745,760 L1795,790 L1880,790 L1925,750 M1790,790 L1790,885 M1880,790 L1880,885"/>
<path d="M1810,755 q20,-15 35,0" stroke-width="14"/>
<path d="M1685,880 L1690,1080 M1700,900 Q1760,930 1840,930 M1950,840 L1955,1050 Q1940,1100 1890,1100"/>
<ellipse cx="1890" cy="1010" rx="50" ry="80"/>
<path d="M1720,1095 Q1780,1110 1840,1110"/>
<path d="M1925,820 L2100,880 Q2140,960 2190,975 L2300,1020 Q2340,1060 2345,1120 L2368,1240"/>
<path d="M2100,1050 Q2170,1100 2185,1250"/>
<path d="M1190,960 Q1195,1020 1245,1060 Q1250,1120 1330,1150 Q1345,1230 1410,1290 M1240,920 Q1300,905 1470,920 M1370,1140 L1420,1130 Q1500,1140 1580,1130 Q1620,1090 1680,1085"/>
<path d="M1255,975 L1265,1010 M1330,985 L1335,1020 M1440,950 L1440,1020 M1375,1035 Q1410,1070 1420,1110 M1510,935 Q1560,930 1590,905"/>
<path d="M1380,1240 L1450,1210 M1515,1235 Q1590,1300 1600,1410 M1700,1410 L1810,1300 M1860,1250 Q1950,1210 2060,1215 Q2200,1240 2290,1310"/>
<path d="M1440,1350 Q1470,1420 1480,1500 Q1500,1530 1520,1568"/>
<path d="M1225,1395 L1260,1330 L1330,1320 L1390,1380 L1390,1460 L1320,1500 L1250,1480 Z M1330,1320 L1340,1390 L1320,1500 M1260,1330 L1270,1400 L1340,1390" fill="#fff"/>
<ellipse cx="1285" cy="1430" rx="18" ry="22"/>
<path d="M1540,1500 L1670,1445 M1950,1435 L2140,1380 Q2200,1420 2230,1500"/>
<path d="M2240,1280 L2330,1240"/>
<path d="M190,1210 L675,1380"/>
<path d="M190,1250 L680,1430" stroke-width="16"/>
<path d="M225,1280 L230,1568 M545,1390 L545,1568 M330,1330 Q320,1420 360,1480"/>
<path d="M360,1480 L540,1530" stroke-width="18"/>

</g>
<g transform="translate(1380,900) scale(0.25)" stroke-width="12">

<path d="M80,0 L80,240 L255,322 L470,225 M135,0 L135,262"/>
<path d="M180,262 L228,192 Q255,180 280,215 L245,300 Z" fill="#fff" stroke-width="14"/>
<path d="M200,60 L655,230"/>
<path d="M190,100 L655,280" stroke-width="16"/>
<path d="M545,0 L545,160 M235,45 L400,0"/>
<path d="M415,290 L415,730 L480,750" stroke-dasharray="170,22,24,22"/>
<path d="M545,240 L540,430 Q560,560 700,630 Q850,690 1000,695 L1265,680"/>
<path d="M1270,470 L1270,1080 Q1290,1180 1400,1210 Q1470,1230 1560,1225 Q1700,1200 1740,1110" fill="#fff"/>
<path d="M1745,530 L1745,1110" stroke-width="22"/>
<path d="M820,20 L820,185 L870,190"/>
<path d="M875,95 L1060,15 L1370,125 M875,95 L875,340 L1180,440 M900,105 L1255,230 L1270,180 L1370,130 L1460,100"/>
<path d="M945,170 q-30,15 -5,40 M1095,215 q-30,15 -5,40 M945,290 q-30,15 -5,40 M1095,340 q-30,15 -5,40" stroke-width="14"/>
<path d="M1275,195 L1370,300 L1365,370 L1470,385 L1470,330 L1550,320 L1640,325 L1800,265"/>
<path d="M1280,460 L1340,510 L1450,545 L1640,545 L1840,470"/>
<path d="M1350,400 L1350,510 M1460,430 L1460,545 M1640,350 L1640,530 M1240,320 L1240,420"/>
<path d="M1400,200 L1400,265 Q1470,290 1545,265 L1545,200" fill="#fff"/>
<ellipse cx="1472" cy="195" rx="72" ry="25" fill="#fff"/>
<path d="M1450,160 L1450,110 Q1470,95 1492,110 L1492,160 Z M1452,130 L1490,130 M1452,145 L1490,145" fill="#fff"/>
<path d="M1385,260 L1385,310 M1555,270 L1555,320 M1390,300 L1450,320"/>
<path d="M1160,480 Q1130,540 1160,600 Q1200,640 1250,630 Q1275,580 1255,480 Q1210,440 1160,480 Z" fill="#fff"/>
<path d="M1180,560 L1205,545 L1220,575 L1190,590 Z"/>
<ellipse cx="1190" cy="410" rx="16" ry="20" fill="#000"/>

</g>
<g transform="translate(1700,780) scale(0.25)" stroke-width="12">

<path d="M1060,0 Q1065,100 1070,200 L1120,215 Q1145,240 1140,300 L1140,940 Q1130,980 1090,1000 L960,1040 Q900,1100 820,1160 Q700,1230 580,1235 Q500,1225 470,1200"/>
<path d="M830,10 Q900,60 910,210 M945,235 L1030,200"/>
<path d="M580,215 Q700,165 830,190 L900,215"/>
<path d="M500,440 Q560,330 650,270 Q760,210 880,230 Q980,260 1010,300"/>
<path d="M1085,420 Q1110,500 1105,700 Q1090,800 1000,880 Q960,950 940,1020"/>
<path d="M561,730 L576,714 Q640,650 658,622 L694,510 Q700,460 704,444 Q720,420 755,408 L867,367 Q890,370 908,378 L980,520 Q1000,540 1061,556 L1077,587 L1077,700 L1040,790 L960,860 L930,960 L900,1020 L750,1090 L640,1060 L600,950 L570,930 Z" fill="#fff"/>
<path d="M663,398 L811,337 L867,357 M638,434 Q620,500 602,561 L561,628 L480,684"/>
<path d="M480,690 L560,720"/>
<ellipse cx="820" cy="725" rx="145" ry="205" transform="rotate(18 820 725)"/>
<ellipse cx="790" cy="700" rx="100" ry="150" transform="rotate(18 790 700)"/>
<ellipse cx="775" cy="705" rx="40" ry="50" fill="#000"/>
<path d="M760,690 L790,690 M760,710 L790,710" stroke="#fff" stroke-width="8"/>
<path d="M810,535 Q880,520 940,580" stroke-width="28"/>
<path d="M700,840 L820,800 M720,880 L830,840"/>
<path d="M810,440 q30,-5 25,25 q-5,20 -25,20 M1015,640 q30,-5 25,25 q-5,20 -25,20 M605,800 q30,-5 25,25 q-5,20 -25,20 M815,980 q30,-5 25,25 q-5,20 -25,20" stroke-width="14"/>
<ellipse cx="1075" cy="340" rx="50" ry="55" fill="#fff"/><path d="M1080,325 q25,0 20,25 q-5,15 -20,15" stroke-width="14"/>
<ellipse cx="1060" cy="890" rx="50" ry="58" fill="#fff"/><path d="M1065,875 q25,0 20,25 q-5,15 -20,15" stroke-width="14"/>
<path d="M390,880 L420,840 L490,830 L525,870 L510,935 L450,955 L395,925 Z" fill="#fff"/>
<path d="M385,520 Q380,470 420,460 Q480,455 500,500 Q505,560 450,575 Q400,575 385,520 Z" fill="#fff" stroke-width="14"/>
<path d="M445,490 q30,-5 25,25 q-5,20 -25,20" stroke-width="14"/>
<path d="M440,425 L440,460 M255,455 L390,405 M330,470 Q320,520 325,580 M375,600 Q395,570 435,565 M405,640 Q410,600 440,580"/>
<path d="M420,840 L440,900 L430,950"/>

</g>
<polyline points="1428,334 1429.3,457.7 1453.6,501" stroke-width="3.3"/>
<polyline points="1499,334 1500.5,416" stroke-width="3.3"/>
<polyline points="1570,334 1572.4,468 1519,489.2" stroke-width="3.3"/>
<path d="M1489.2,433.5 C1489.2,424 1495.6,420 1502,420 C1508.4,420 1514.8,424 1514.8,433.5 C1514.8,438.5 1509.68,441.5 1508.4,441.5 L1495.6,441.5 C1494.32,441.5 1489.2,438.5 1489.2,433.5 Z" fill="#fff" stroke-width="3.2"/>
<ellipse cx="1502" cy="429.03" rx="8.959999999999999" ry="6.45" stroke-width="1.6"/>
<path d="M1495,441.5 L1495,468 Q1495,471 1498,471 L1506,471 Q1509,471 1509,468 L1509,441.5" fill="#fff" stroke-width="3"/>
<rect x="1495" y="443.5" width="5.25" height="24.5" fill="#000" stroke="none"/>
<line x1="1499.9" y1="446.5" x2="1502" y2="446.5" stroke-width="1"/>
<line x1="1499.9" y1="449.7" x2="1502" y2="449.7" stroke-width="1"/>
<line x1="1499.9" y1="452.9" x2="1502" y2="452.9" stroke-width="1"/>
<line x1="1499.9" y1="456.1" x2="1502" y2="456.1" stroke-width="1"/>
<line x1="1499.9" y1="459.3" x2="1502" y2="459.3" stroke-width="1"/>
<line x1="1499.9" y1="462.5" x2="1502" y2="462.5" stroke-width="1"/>
<line x1="1499.9" y1="465.7" x2="1502" y2="465.7" stroke-width="1"/>
<ellipse cx="1502.7" cy="490.7" rx="15.4" ry="11" fill="#fff" stroke-width="2"/><ellipse cx="1502.7" cy="490.7" rx="8.5" ry="5.5" stroke-width="3.6"/>
<polyline points="1503.7,508.3 1503.7,520" stroke-width="3.3"/>
<polygon points="1433,514.9 1444,506 1462.4,505.3 1529.1,528.1 1529.1,538.4 1502.7,549.4 1435.2,527.4" stroke-width="3.2" fill="#fff"/>
<polyline points="1435,521 1502.7,540.5 1529,530" stroke-width="3.3"/>
<polyline points="1502.7,540.5 1502.7,549" stroke-width="3.3"/>
<path d="M1450.8,515.4 q5,-7 11,-1" stroke-width="3.2"/>
<path d="M1477.2,524.2 q5,-7 11,-1" stroke-width="3.2"/>
<path d="M1497.7,531.6 q5,-7 11,-1" stroke-width="3.2"/>
<ellipse cx="1325" cy="748.5" rx="60" ry="91.5" transform="rotate(21.9 1325 748.5)" stroke-width="3.2"/>
<path d="M1316,747 L1399,775" stroke-width="2.2" stroke-dasharray="22,6,4,6"/>
<polyline points="1305.5,840 1305.5,947.5" stroke-width="3.3"/>
<ellipse cx="1518" cy="1097" rx="18" ry="27" transform="rotate(15 1518 1097)" fill="#fff" stroke-width="3"/>
<ellipse cx="1518" cy="1097" rx="8" ry="15" transform="rotate(15 1518 1097)" stroke-width="3"/>
<polyline points="1483.8,1292 1483.8,1157.5 1502.5,1125" stroke-width="3.3"/>
<ellipse cx="1562.5" cy="1112.5" rx="18.5" ry="25" transform="rotate(15 1562.5 1112.5)" fill="#fff" stroke-width="2.8"/>
<ellipse cx="1562.5" cy="1112.5" rx="10" ry="17" transform="rotate(15 1562.5 1112.5)" stroke-width="4.5" stroke-dasharray="2.5,1.5"/>
<ellipse cx="1562.5" cy="1112.5" rx="6" ry="12" transform="rotate(15 1562.5 1112.5)" stroke-width="2.2"/>
<polyline points="1558,1140 1558,1292" stroke-width="3.3"/>
<path d="M1594,1117 L1655,1134 L1657,1155 L1596,1138 Q1590,1130 1594,1117 Z" fill="#fff" stroke-width="3.5"/>
<line x1="1598.0" y1="1119.0" x2="1599.0" y2="1127.0" stroke-width="1.6"/>
<line x1="1602.4" y1="1120.25" x2="1603.4" y2="1128.25" stroke-width="1.6"/>
<line x1="1606.8" y1="1121.5" x2="1607.8" y2="1129.5" stroke-width="1.6"/>
<line x1="1611.2" y1="1122.75" x2="1612.2" y2="1130.75" stroke-width="1.6"/>
<line x1="1615.6" y1="1124.0" x2="1616.6" y2="1132.0" stroke-width="1.6"/>
<line x1="1620.0" y1="1125.25" x2="1621.0" y2="1133.25" stroke-width="1.6"/>
<line x1="1624.4" y1="1126.5" x2="1625.4" y2="1134.5" stroke-width="1.6"/>
<line x1="1628.8" y1="1127.75" x2="1629.8" y2="1135.75" stroke-width="1.6"/>
<line x1="1633.2" y1="1129.0" x2="1634.2" y2="1137.0" stroke-width="1.6"/>
<line x1="1637.6" y1="1130.25" x2="1638.6" y2="1138.25" stroke-width="1.6"/>
<path d="M1655,1134 L1672,1130 L1672,1170 L1657,1155" fill="#fff" stroke-width="3"/>
<ellipse cx="1674" cy="1150" rx="14" ry="20" transform="rotate(12 1674 1150)" fill="#fff" stroke-width="4"/>
<polyline points="1634.5,1154 1634.5,1292" stroke-width="3.3"/>
<path d="M1860.7,1245 L1860.7,1389 Q1870,1420 1919,1423 Q1968,1420 1978,1389 L1978,1245" fill="#fff" stroke-width="3.2"/>
<path d="M1977,1250 L1977,1390" stroke-width="6"/>
<ellipse cx="1919.2" cy="1228.6" rx="63" ry="33" fill="#fff" stroke-width="4"/>
<path d="M1856.5,1228.6 L1857,1250 Q1870,1268 1913,1273 M1926,1273 Q1970,1268 1982,1250 L1982,1228.6" fill="none" stroke-width="3.5"/>
<ellipse cx="1919.2" cy="1228.6" rx="56" ry="26" stroke-width="2.2"/>
<ellipse cx="1919.2" cy="1229" rx="48" ry="22" stroke-width="3.5"/>
<ellipse cx="1919.2" cy="1229.5" rx="38" ry="17" stroke-width="5"/>
<ellipse cx="1919" cy="1229" rx="30" ry="12.5" fill="#fff" stroke-width="3"/>
<ellipse cx="1919" cy="1229" rx="17" ry="9.5" fill="#000" stroke="none"/>
<path d="M1911,1226 L1927,1226 M1918,1226 L1918,1234 M1918,1230 L1925,1230" stroke="#fff" stroke-width="2.2"/>
<polyline points="1918.6,1428.5 1918.6,1527" stroke-width="3.3"/>
<ellipse cx="2058.7" cy="1012.3" rx="35.6" ry="54" transform="rotate(17 2058.7 1012.3)" stroke-width="3"/>
<polyline points="2068.7,830 2068.7,955" stroke-width="3.3"/>
<path d="M2055,1011 L2122.5,1036" stroke-width="2.2" stroke-dasharray="22,6,4,6"/>
<polyline points="2285.5,829 2285.5,1025" stroke-width="3.3"/>
<ellipse cx="2197.5" cy="1222" rx="13.5" ry="19" transform="rotate(12 2197.5 1222)" fill="#fff" stroke-width="2.6"/>
<ellipse cx="2197.5" cy="1222" rx="7" ry="12" transform="rotate(12 2197.5 1222)" stroke-width="4" stroke-dasharray="2,1.5"/>
<polyline points="2197.5,1244 2197.5,1360" stroke-width="3.3"/>
<path d="M2224,1227 L2268,1238 L2266,1254 L2222,1243 Q2218,1236 2224,1227 Z" fill="#fff" stroke-width="3"/>
<line x1="2226.0" y1="1229.0" x2="2227.0" y2="1236.0" stroke-width="1.5"/>
<line x1="2230.2" y1="1230.05" x2="2231.2" y2="1237.05" stroke-width="1.5"/>
<line x1="2234.4" y1="1231.1" x2="2235.4" y2="1238.1" stroke-width="1.5"/>
<line x1="2238.6" y1="1232.15" x2="2239.6" y2="1239.15" stroke-width="1.5"/>
<line x1="2242.8" y1="1233.2" x2="2243.8" y2="1240.2" stroke-width="1.5"/>
<line x1="2247.0" y1="1234.25" x2="2248.0" y2="1241.25" stroke-width="1.5"/>
<line x1="2251.2" y1="1235.3" x2="2252.2" y2="1242.3" stroke-width="1.5"/>
<line x1="2255.4" y1="1236.35" x2="2256.4" y2="1243.35" stroke-width="1.5"/>
<line x1="2259.6" y1="1237.4" x2="2260.6" y2="1244.4" stroke-width="1.5"/>
<path d="M2266,1236 L2278,1232 L2280,1263 L2266,1254" fill="#fff" stroke-width="3"/>
<ellipse cx="2280" cy="1248" rx="11" ry="16" transform="rotate(10 2280 1248)" fill="#fff" stroke-width="3.5"/>
<ellipse cx="2281" cy="1248" rx="3.5" ry="6" stroke-width="2"/>
<polyline points="2272,1266 2272,1360" stroke-width="3.3"/>
<g transform="translate(2080,960) scale(0.18750117188232426)" stroke-width="15.9999">

<path d="M115,640 L110,580 Q120,530 170,490 L390,235 Q430,195 560,158 L620,155 L780,225 L1200,390 L1880,610 Q1910,650 1900,740 L1930,760 L1930,1060 L1900,1100 Q1850,1200 1830,1270 Q1780,1330 1660,1380 L1600,1385 L1520,1410 L1480,1410 L1010,1240 L330,1000 L300,905 Q150,860 120,840 Q100,800 115,760 Q150,740 200,745 Q250,735 300,725 L305,690 Q310,660 290,640 Q250,640 210,660 Q150,670 115,640 Z" fill="#fff" stroke-width="18"/>
<path d="M185,655 L180,600 Q190,560 230,520 L450,280 Q490,240 640,200 L790,245" stroke-width="16"/>
<path d="M195,780 Q180,840 205,855 M350,800 L355,990 M300,905 L340,1000"/>
<path d="M700,280 L1040,410 M530,350 L890,505 M540,380 L900,510 M710,285 L1030,415" stroke-width="12"/>
<path d="M1150,550 L1500,680 M1140,590 L1470,710 M1340,480 L1650,610" stroke-width="12"/>
<path d="M480,345 Q430,380 410,520 L410,990" stroke-width="16"/>
<path d="M420,525 L900,710" stroke-width="12"/>
<path d="M360,690 L360,760 M470,760 L480,1350 L530,1365" stroke-width="14"/>
<path d="M830,660 L840,1180 M830,660 Q830,580 940,520 Q960,480 1100,420" stroke-width="16"/>
<path d="M1005,750 L1015,1240 M1005,750 Q1000,660 1080,610 Q1110,580 1140,560 L1290,490 L1400,460" stroke-width="16"/>
<path d="M965,730 L1360,870" stroke-width="12"/>
<path d="M1360,870 L1350,1380 M1360,870 Q1400,800 1460,720 L1560,680" stroke-width="16"/>
<path d="M1480,980 L1490,1410" stroke-width="16"/>
<path d="M1590,760 Q1620,700 1760,650 L1800,660" stroke-width="14"/>
<path d="M1400,990 Q1430,930 1480,900 M1460,860 Q1470,800 1520,780" stroke-width="12"/>
<circle cx="1860" cy="680" r="42" fill="#fff" stroke-width="16"/>
<circle cx="1870" cy="1175" r="40" fill="#fff" stroke-width="16"/>
<circle cx="1520" cy="835" r="48" fill="#fff" stroke-width="16"/>
<circle cx="1520" cy="1355" r="52" fill="#fff" stroke-width="16"/>
<path d="M1420,1260 L1420,1390 M1420,1260 L1560,1300" stroke-width="14"/>
<path d="M1640,930 Q1640,820 1720,820 Q1760,830 1765,900 L1760,1150 Q1740,1220 1690,1225 Q1640,1200 1640,1130" stroke-width="16"/>
<path d="M1860,905 q20,-10 25,10 q0,15 -10,20 M1550,1085 q20,-10 25,10 M575,745 q-20,5 -15,30 M735,805 q5,15 0,30 M575,935 q-20,5 -15,30 M720,995 q-15,20 10,45 M1090,925 q-20,5 -15,30 M1275,1000 q5,15 0,30 M1090,1120 q-20,5 -15,30 M1255,1165 q-15,20 10,45" stroke-width="16"/>
<ellipse cx="655" cy="870" rx="55" ry="70" stroke-width="18"/>
<path d="M610,840 Q630,800 690,820" stroke-width="30"/>
<ellipse cx="1175" cy="1050" rx="55" ry="70" stroke-width="18"/>
<path d="M1130,1020 Q1150,980 1210,1000" stroke-width="30"/>

</g>
</g>
<circle cx="627.5" cy="67" r="29" fill="#fff" stroke="#000" stroke-width="2.8"/>
<path d="M628.9,54.2 L633.5,54.2 L633.5,81.2 L628.9,81.2 L628.9,61.8 Q626.2,63.4 622.7,63.6 L622.7,60.4 Q626.7,58.8 628.9,54.2 Z" fill="#000" stroke="none"/>
<circle cx="698" cy="65.5" r="29" fill="#fff" stroke="#000" stroke-width="2.8"/>
<text x="698.6" y="79.7" class="n">2</text>
<circle cx="769.5" cy="65" r="29" fill="#fff" stroke="#000" stroke-width="2.8"/>
<text x="770.1" y="79.2" class="n">3</text>
<circle cx="860" cy="65.5" r="29" fill="#fff" stroke="#000" stroke-width="2.8"/>
<text x="860.6" y="79.7" class="n">4</text>
<circle cx="931" cy="65.5" r="29" fill="#fff" stroke="#000" stroke-width="2.8"/>
<text x="931.6" y="79.7" class="n">5</text>
<circle cx="1002.5" cy="65.5" r="29" fill="#fff" stroke="#000" stroke-width="2.8"/>
<text x="1003.1" y="79.7" class="n">6</text>
<circle cx="1074.5" cy="65.5" r="29" fill="#fff" stroke="#000" stroke-width="2.8"/>
<text x="1075.1" y="79.7" class="n">7</text>
<circle cx="1146" cy="65" r="29" fill="#fff" stroke="#000" stroke-width="2.8"/>
<text x="1136.2" y="79.2" class="n">2</text>
<text x="1157.0" y="79.2" class="n">4</text>
<circle cx="1218" cy="63.5" r="29" fill="#fff" stroke="#000" stroke-width="2.8"/>
<text x="1208.2" y="77.7" class="n">2</text>
<text x="1229.0" y="77.7" class="n">5</text>
<circle cx="764" cy="546.5" r="29" fill="#fff" stroke="#000" stroke-width="2.8"/>
<text x="764.6" y="560.7" class="n">8</text>
<circle cx="1427" cy="302.5" r="29" fill="#fff" stroke="#000" stroke-width="2.8"/>
<text x="1427.6" y="316.7" class="n">9</text>
<circle cx="1498" cy="302" r="29" fill="#fff" stroke="#000" stroke-width="2.8"/>
<path d="M1487.7,289.2 L1492.3,289.2 L1492.3,316.2 L1487.7,316.2 L1487.7,296.8 Q1485.0,298.4 1481.5,298.6 L1481.5,295.4 Q1485.5,293.8 1487.7,289.2 Z" fill="#000" stroke="none"/>
<text x="1506.5" y="316.2" class="n">0</text>
<circle cx="1569.5" cy="302" r="29" fill="#fff" stroke="#000" stroke-width="2.8"/>
<path d="M1563.0,289.2 L1567.6,289.2 L1567.6,316.2 L1563.0,316.2 L1563.0,296.8 Q1560.3,298.4 1556.8,298.6 L1556.8,295.4 Q1560.8,293.8 1563.0,289.2 Z" fill="#000" stroke="none"/>
<path d="M1578.8,289.2 L1583.4,289.2 L1583.4,316.2 L1578.8,316.2 L1578.8,296.8 Q1576.1,298.4 1572.6,298.6 L1572.6,295.4 Q1576.6,293.8 1578.8,289.2 Z" fill="#000" stroke="none"/>
<circle cx="1798" cy="483.5" r="29" fill="#fff" stroke="#000" stroke-width="2.8"/>
<path d="M1787.7,470.7 L1792.3,470.7 L1792.3,497.7 L1787.7,497.7 L1787.7,478.3 Q1785.0,479.9 1781.5,480.1 L1781.5,476.9 Q1785.5,475.3 1787.7,470.7 Z" fill="#000" stroke="none"/>
<text x="1806.5" y="497.7" class="n">2</text>
<circle cx="967.5" cy="806" r="29" fill="#fff" stroke="#000" stroke-width="2.8"/>
<path d="M957.2,793.2 L961.8,793.2 L961.8,820.2 L957.2,820.2 L957.2,800.8 Q954.5,802.4 951.0,802.6 L951.0,799.4 Q955.0,797.8 957.2,793.2 Z" fill="#000" stroke="none"/>
<text x="976.0" y="820.2" class="n">6</text>
<circle cx="126" cy="980.5" r="29" fill="#fff" stroke="#000" stroke-width="2.8"/>
<path d="M115.7,967.7 L120.3,967.7 L120.3,994.7 L115.7,994.7 L115.7,975.3 Q113.0,976.9 109.5,977.1 L109.5,973.9 Q113.5,972.3 115.7,967.7 Z" fill="#000" stroke="none"/>
<text x="134.5" y="994.7" class="n">5</text>
<circle cx="125.5" cy="1127.5" r="29" fill="#fff" stroke="#000" stroke-width="2.8"/>
<text x="115.7" y="1141.7" class="n">2</text>
<text x="136.5" y="1141.7" class="n">6</text>
<circle cx="1304" cy="978" r="29" fill="#fff" stroke="#000" stroke-width="2.8"/>
<path d="M1293.7,965.2 L1298.3,965.2 L1298.3,992.2 L1293.7,992.2 L1293.7,972.8 Q1291.0,974.4 1287.5,974.6 L1287.5,971.4 Q1291.5,969.8 1293.7,965.2 Z" fill="#000" stroke="none"/>
<text x="1312.5" y="992.2" class="n">7</text>
<circle cx="1484" cy="1323" r="29" fill="#fff" stroke="#000" stroke-width="2.8"/>
<path d="M1473.7,1310.2 L1478.3,1310.2 L1478.3,1337.2 L1473.7,1337.2 L1473.7,1317.8 Q1471.0,1319.4 1467.5,1319.6 L1467.5,1316.4 Q1471.5,1314.8 1473.7,1310.2 Z" fill="#000" stroke="none"/>
<text x="1492.5" y="1337.2" class="n">8</text>
<circle cx="1557" cy="1323" r="29" fill="#fff" stroke="#000" stroke-width="2.8"/>
<path d="M1546.7,1310.2 L1551.3,1310.2 L1551.3,1337.2 L1546.7,1337.2 L1546.7,1317.8 Q1544.0,1319.4 1540.5,1319.6 L1540.5,1316.4 Q1544.5,1314.8 1546.7,1310.2 Z" fill="#000" stroke="none"/>
<text x="1565.5" y="1337.2" class="n">9</text>
<circle cx="1634" cy="1322" r="29" fill="#fff" stroke="#000" stroke-width="2.8"/>
<text x="1624.2" y="1336.2" class="n">2</text>
<text x="1645.0" y="1336.2" class="n">0</text>
<circle cx="2066.5" cy="800" r="29" fill="#fff" stroke="#000" stroke-width="2.8"/>
<path d="M2056.2,787.2 L2060.8,787.2 L2060.8,814.2 L2056.2,814.2 L2056.2,794.8 Q2053.5,796.4 2050.0,796.6 L2050.0,793.4 Q2054.0,791.8 2056.2,787.2 Z" fill="#000" stroke="none"/>
<text x="2075.0" y="814.2" class="n">3</text>
<circle cx="2285.5" cy="799" r="29" fill="#fff" stroke="#000" stroke-width="2.8"/>
<path d="M2275.2,786.2 L2279.8,786.2 L2279.8,813.2 L2275.2,813.2 L2275.2,793.8 Q2272.5,795.4 2269.0,795.6 L2269.0,792.4 Q2273.0,790.8 2275.2,786.2 Z" fill="#000" stroke="none"/>
<text x="2294.0" y="813.2" class="n">4</text>
<circle cx="2197.5" cy="1390" r="29" fill="#fff" stroke="#000" stroke-width="2.8"/>
<text x="2187.7" y="1404.2" class="n">2</text>
<text x="2208.5" y="1404.2" class="n">2</text>
<circle cx="2272" cy="1389" r="29" fill="#fff" stroke="#000" stroke-width="2.8"/>
<text x="2262.2" y="1403.2" class="n">2</text>
<text x="2283.0" y="1403.2" class="n">3</text>
<circle cx="1918" cy="1557" r="29" fill="#b6ff00" stroke="#000" stroke-width="2.8"/>
<text x="1910.7" y="1571.2" class="n">2</text>
<path d="M1931.1,1544.2 L1935.7,1544.2 L1935.7,1571.2 L1931.1,1571.2 L1931.1,1551.8 Q1928.4,1553.4 1924.9,1553.6 L1924.9,1550.4 Q1928.9,1548.8 1931.1,1544.2 Z" fill="#000" stroke="none"/>
</svg>
</body></html>
